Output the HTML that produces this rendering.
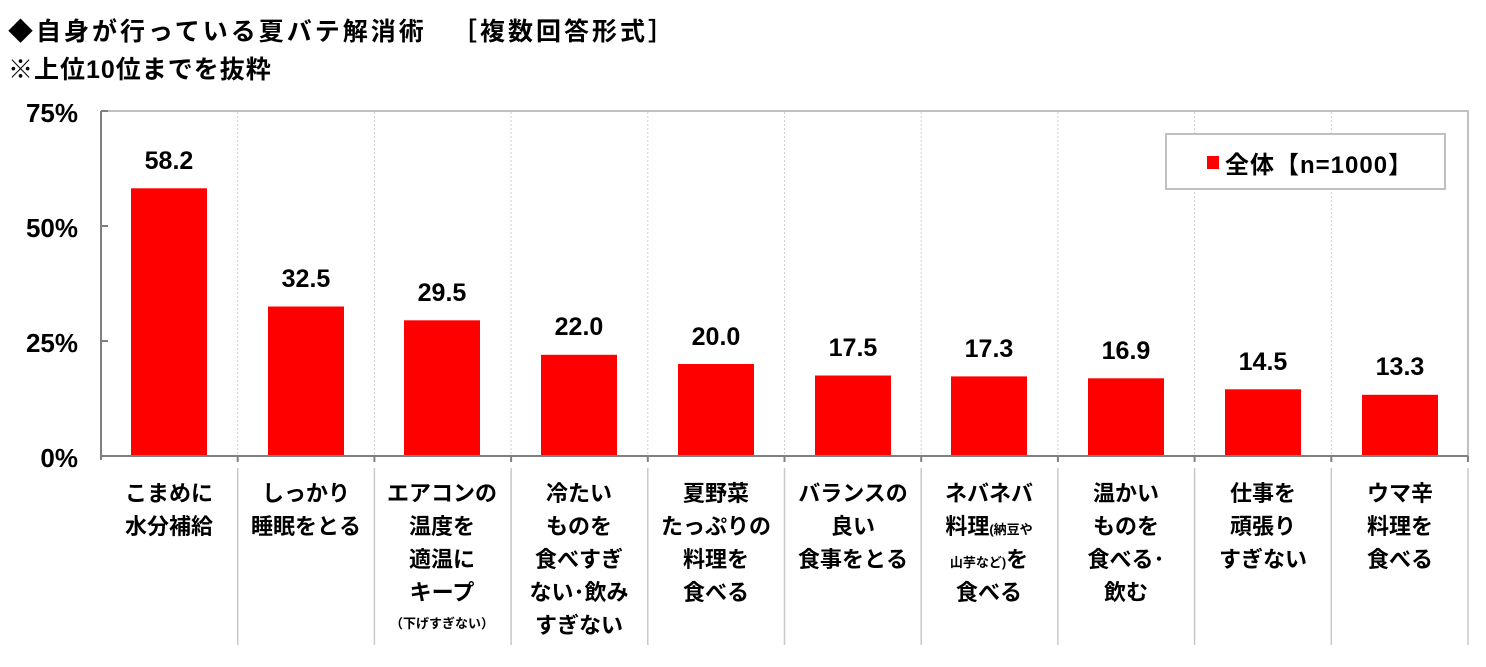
<!DOCTYPE html>
<html><head><meta charset="utf-8"><style>
body{margin:0;background:#fff;}
svg text{font-family:"Liberation Sans","Noto Sans CJK JP",sans-serif;font-weight:bold;fill:#000;}
</style></head><body>
<svg width="1486" height="662" viewBox="0 0 1486 662" xmlns="http://www.w3.org/2000/svg">
<text x="8" y="40" font-size="25" letter-spacing="3">◆自身が行っている夏バテ解消術</text>
<text x="452" y="40" font-size="25" letter-spacing="3">［複数回答形式］</text>
<text x="8" y="78" font-size="25" letter-spacing="1">※上位10位までを抜粋</text>
<g stroke="#d0d0d0" stroke-dasharray="2,2" stroke-width="1">
<line x1="237.7" y1="112" x2="237.7" y2="456"/><line x1="374.4" y1="112" x2="374.4" y2="456"/><line x1="511.1" y1="112" x2="511.1" y2="456"/><line x1="647.8" y1="112" x2="647.8" y2="456"/><line x1="784.5" y1="112" x2="784.5" y2="456"/><line x1="921.2" y1="112" x2="921.2" y2="456"/><line x1="1057.9" y1="112" x2="1057.9" y2="456"/><line x1="1194.6" y1="112" x2="1194.6" y2="456"/><line x1="1331.3" y1="112" x2="1331.3" y2="456"/>
</g>
<g stroke="#c8c8c8" stroke-width="1.5">
<line x1="237.7" y1="468" x2="237.7" y2="645"/><line x1="374.4" y1="468" x2="374.4" y2="645"/><line x1="511.1" y1="468" x2="511.1" y2="645"/><line x1="647.8" y1="468" x2="647.8" y2="645"/><line x1="784.5" y1="468" x2="784.5" y2="645"/><line x1="921.2" y1="468" x2="921.2" y2="645"/><line x1="1057.9" y1="468" x2="1057.9" y2="645"/><line x1="1194.6" y1="468" x2="1194.6" y2="645"/><line x1="1331.3" y1="468" x2="1331.3" y2="645"/><line x1="1468" y1="468" x2="1468" y2="645"/>
</g>
<polyline points="101,111 1468,111 1468,456" fill="none" stroke="#c0c0c0" stroke-width="2"/>
<g fill="#ff0000">
<rect x="131" y="188.3" width="76" height="267.7"/>
<rect x="268" y="306.5" width="76" height="149.5"/>
<rect x="404" y="320.3" width="76" height="135.7"/>
<rect x="541" y="354.8" width="76" height="101.2"/>
<rect x="678" y="364" width="76" height="92"/>
<rect x="815" y="375.5" width="76" height="80.5"/>
<rect x="951" y="376.4" width="76" height="79.6"/>
<rect x="1088" y="378.3" width="76" height="77.7"/>
<rect x="1225" y="389.3" width="76" height="66.7"/>
<rect x="1362" y="394.8" width="76" height="61.2"/>
</g>
<g stroke="#808080" stroke-width="2">
<line x1="101" y1="111" x2="101" y2="460"/><line x1="100" y1="456" x2="1468" y2="456"/>
<line x1="101" y1="111" x2="108" y2="111"/><line x1="101" y1="226" x2="108" y2="226"/><line x1="101" y1="341" x2="108" y2="341"/>
<line x1="237.7" y1="456" x2="237.7" y2="462"/><line x1="374.4" y1="456" x2="374.4" y2="462"/><line x1="511.1" y1="456" x2="511.1" y2="462"/><line x1="647.8" y1="456" x2="647.8" y2="462"/><line x1="784.5" y1="456" x2="784.5" y2="462"/><line x1="921.2" y1="456" x2="921.2" y2="462"/><line x1="1057.9" y1="456" x2="1057.9" y2="462"/><line x1="1194.6" y1="456" x2="1194.6" y2="462"/><line x1="1331.3" y1="456" x2="1331.3" y2="462"/><line x1="1468" y1="456" x2="1468" y2="462"/>
</g>
<g font-size="26" text-anchor="end">
<text x="78" y="122">75%</text><text x="78" y="237">50%</text><text x="78" y="352">25%</text><text x="78" y="467">0%</text>
</g>
<g font-size="25" text-anchor="middle">
<text x="169" y="169">58.2</text><text x="306" y="287">32.5</text><text x="442" y="301">29.5</text><text x="579" y="335">22.0</text><text x="716" y="345">20.0</text><text x="853" y="356">17.5</text><text x="989" y="357">17.3</text><text x="1126" y="359">16.9</text><text x="1263" y="370">14.5</text><text x="1400" y="375">13.3</text>
</g>
<rect x="1166" y="134" width="279" height="55" fill="#fff" stroke="#c0c0c0" stroke-width="2"/>
<rect x="1207" y="156" width="12" height="13" fill="#ff0000"/>
<text x="1225" y="173" font-size="24" letter-spacing="1">全体【n=1000】</text>
<g font-size="22" text-anchor="middle">
<text x="169" y="501">こまめに</text><text x="169" y="534">水分補給</text>
<text x="306" y="501">しっかり</text><text x="306" y="534">睡眠をとる</text>
<text x="442" y="501">エアコンの</text><text x="442" y="534">温度を</text><text x="442" y="567">適温に</text><text x="442" y="600">キープ</text><text x="442" y="628" font-size="13">（下げすぎない）</text>
<text x="579" y="501">冷たい</text><text x="579" y="534">ものを</text><text x="579" y="567">食べすぎ</text><text x="579" y="600">ない･飲み</text><text x="579" y="633">すぎない</text>
<text x="716" y="501">夏野菜</text><text x="716" y="534">たっぷりの</text><text x="716" y="567">料理を</text><text x="716" y="600">食べる</text>
<text x="853" y="501">バランスの</text><text x="853" y="534">良い</text><text x="853" y="567">食事をとる</text>
<text x="989" y="501">ネバネバ</text><text x="989" y="534">料理<tspan font-size="13">(納豆や</tspan></text><text x="989" y="567"><tspan font-size="13">山芋など)</tspan>を</text><text x="989" y="600">食べる</text>
<text x="1126" y="501">温かい</text><text x="1126" y="534">ものを</text><text x="1126" y="567">食べる･</text><text x="1126" y="600">飲む</text>
<text x="1263" y="501">仕事を</text><text x="1263" y="534">頑張り</text><text x="1263" y="567">すぎない</text>
<text x="1400" y="501">ウマ辛</text><text x="1400" y="534">料理を</text><text x="1400" y="567">食べる</text>
</g>
</svg>
</body></html>
